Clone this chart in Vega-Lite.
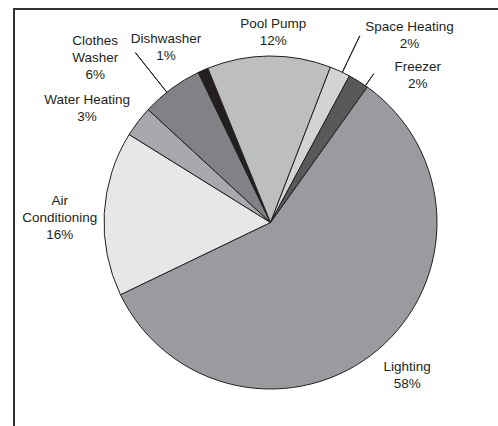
{
  "$schema": "https://vega.github.io/schema/vega-lite/v6.json",
  "width": 487,
  "height": 420,
  "autosize": {"type": "none"},
  "padding": {"left": 14, "top": 9, "right": -3, "bottom": -3},
  "background": "white",
  "config": {"view": {"stroke": "#333333", "strokeWidth": 2}, "text": {"font": "Liberation Sans"}},
  "data": {
    "values": [
      {"category": "Lighting", "value": 58, "label": "Lighting\n58%"},
      {"category": "Air Conditioning", "value": 16, "label": "Air\nConditioning\n16%"},
      {"category": "Water Heating", "value": 3, "label": "Water Heating\n3%"},
      {"category": "Clothes Washer", "value": 6, "label": "Clothes\nWasher\n6%"},
      {"category": "Dishwasher", "value": 1, "label": "Dishwasher\n1%"},
      {"category": "Pool Pump", "value": 12, "label": "Pool Pump\n12%"},
      {"category": "Space Heating", "value": 2, "label": "Space Heating\n2%"},
      {"category": "Freezer", "value": 2, "label": "Freezer\n2%"}
    ]
  },
  "transform": [
    {"stack": "value", "groupby": [], "as": ["v0", "v1"]},
    {"calculate": "(datum.v0 + datum.v1) / 2", "as": "mid"}
  ],
  "layer": [
    {
      "mark": {"type": "point", "opacity": 0},
      "encoding": {
        "x": {"field": "value", "type": "quantitative", "axis": null},
        "y": {"field": "value", "type": "quantitative", "axis": null}
      }
    },
    {
      "mark": {"type": "arc", "radius": 166.5, "x": 256.5, "y": 213.5, "stroke": "#231f20", "strokeWidth": 1},
      "encoding": {
        "theta": {"field": "v0", "type": "quantitative", "scale": {"domain": [0, 100], "range": [0.6196, 6.9028]}},
        "theta2": {"field": "v1"},
        "color": {
          "field": "category", "type": "nominal", "legend": null,
          "scale": {
            "domain": ["Lighting", "Air Conditioning", "Water Heating", "Clothes Washer", "Dishwasher", "Pool Pump", "Space Heating", "Freezer"],
            "range": ["#9a9b9e", "#e6e7e8", "#a7a9ac", "#808285", "#231f20", "#bcbec0", "#d1d3d4", "#58595b"]
          }
        }
      }
    },
    {
      "transform": [{"filter": "datum.category === 'Clothes Washer'"}],
      "mark": {"type": "arc", "radius": 217, "radius2": 166.5, "x": 256.5, "y": 213.5, "fill": "transparent", "stroke": "#231f20", "strokeWidth": 1, "thetaOffset": -0.035, "theta2Offset": -0.035},
      "encoding": {
        "theta": {"field": "mid", "type": "quantitative", "scale": {"domain": [0, 100], "range": [0.6196, 6.9028]}},
        "theta2": {"field": "mid"}
      }
    },
    {
      "transform": [{"filter": "datum.category === 'Space Heating'"}],
      "mark": {"type": "arc", "radius": 207, "radius2": 166.5, "x": 256.5, "y": 213.5, "fill": "transparent", "stroke": "#231f20", "strokeWidth": 1, "thetaOffset": 0.015, "theta2Offset": 0.015},
      "encoding": {
        "theta": {"field": "mid", "type": "quantitative", "scale": {"domain": [0, 100], "range": [0.6196, 6.9028]}},
        "theta2": {"field": "mid"}
      }
    },
    {
      "transform": [{"filter": "datum.category === 'Freezer'"}],
      "mark": {"type": "arc", "radius": 181, "radius2": 166.5, "x": 256.5, "y": 213.5, "fill": "transparent", "stroke": "#231f20", "strokeWidth": 1, "thetaOffset": 0.05, "theta2Offset": 0.05},
      "encoding": {
        "theta": {"field": "mid", "type": "quantitative", "scale": {"domain": [0, 100], "range": [0.6196, 6.9028]}},
        "theta2": {"field": "mid"}
      }
    },
    {
      "transform": [{"filter": "datum.category === 'Lighting'"}],
      "mark": {"type": "text", "radius": 205, "thetaOffset": -0.03, "dy": -8.5, "x": 256.5, "y": 213.5, "fontSize": 13.5, "lineHeight": 17, "lineBreak": "\n", "fill": "#231f20", "align": "center", "baseline": "middle"},
      "encoding": {"theta": {"field": "mid", "type": "quantitative", "scale": {"domain": [0, 100], "range": [0.6196, 6.9028]}}, "text": {"field": "label"}}
    },
    {
      "transform": [{"filter": "datum.category === 'Air Conditioning'"}],
      "mark": {"type": "text", "radius": 211, "thetaOffset": -0.01, "dy": -12, "x": 256.5, "y": 213.5, "fontSize": 13.5, "lineHeight": 17, "lineBreak": "\n", "fill": "#231f20", "align": "center", "baseline": "middle"},
      "encoding": {"theta": {"field": "mid", "type": "quantitative", "scale": {"domain": [0, 100], "range": [0.6196, 6.9028]}}, "text": {"field": "label"}}
    },
    {
      "transform": [{"filter": "datum.category === 'Water Heating'"}],
      "mark": {"type": "text", "radius": 218, "thetaOffset": -0.08, "dy": -4.5, "x": 256.5, "y": 213.5, "fontSize": 13.5, "lineHeight": 17, "lineBreak": "\n", "fill": "#231f20", "align": "center", "baseline": "middle"},
      "encoding": {"theta": {"field": "mid", "type": "quantitative", "scale": {"domain": [0, 100], "range": [0.6196, 6.9028]}}, "text": {"field": "label"}}
    },
    {
      "transform": [{"filter": "datum.category === 'Clothes Washer'"}],
      "mark": {"type": "text", "radius": 243, "thetaOffset": -0.169, "dy": -13, "x": 256.5, "y": 213.5, "fontSize": 13.5, "lineHeight": 17, "lineBreak": "\n", "fill": "#231f20", "align": "center", "baseline": "middle"},
      "encoding": {"theta": {"field": "mid", "type": "quantitative", "scale": {"domain": [0, 100], "range": [0.6196, 6.9028]}}, "text": {"field": "label"}}
    },
    {
      "transform": [{"filter": "datum.category === 'Dishwasher'"}],
      "mark": {"type": "text", "radius": 206, "thetaOffset": -0.115, "dy": -5.5, "x": 256.5, "y": 213.5, "fontSize": 13.5, "lineHeight": 17, "lineBreak": "\n", "fill": "#231f20", "align": "center", "baseline": "middle"},
      "encoding": {"theta": {"field": "mid", "type": "quantitative", "scale": {"domain": [0, 100], "range": [0.6196, 6.9028]}}, "text": {"field": "label"}}
    },
    {
      "transform": [{"filter": "datum.category === 'Pool Pump'"}],
      "mark": {"type": "text", "radius": 190, "thetaOffset": 0.023, "dy": -8.5, "x": 256.5, "y": 213.5, "fontSize": 13.5, "lineHeight": 17, "lineBreak": "\n", "fill": "#231f20", "align": "center", "baseline": "middle"},
      "encoding": {"theta": {"field": "mid", "type": "quantitative", "scale": {"domain": [0, 100], "range": [0.6196, 6.9028]}}, "text": {"field": "label"}}
    },
    {
      "transform": [{"filter": "datum.category === 'Space Heating'"}],
      "mark": {"type": "text", "radius": 233, "thetaOffset": 0.208, "dy": -8.5, "x": 256.5, "y": 213.5, "fontSize": 13.5, "lineHeight": 17, "lineBreak": "\n", "fill": "#231f20", "align": "center", "baseline": "middle"},
      "encoding": {"theta": {"field": "mid", "type": "quantitative", "scale": {"domain": [0, 100], "range": [0.6196, 6.9028]}}, "text": {"field": "label"}}
    },
    {
      "transform": [{"filter": "datum.category === 'Freezer'"}],
      "mark": {"type": "text", "radius": 208, "thetaOffset": 0.229, "dy": -8.5, "x": 256.5, "y": 213.5, "fontSize": 13.5, "lineHeight": 17, "lineBreak": "\n", "fill": "#231f20", "align": "center", "baseline": "middle"},
      "encoding": {"theta": {"field": "mid", "type": "quantitative", "scale": {"domain": [0, 100], "range": [0.6196, 6.9028]}}, "text": {"field": "label"}}
    }
  ]
}
